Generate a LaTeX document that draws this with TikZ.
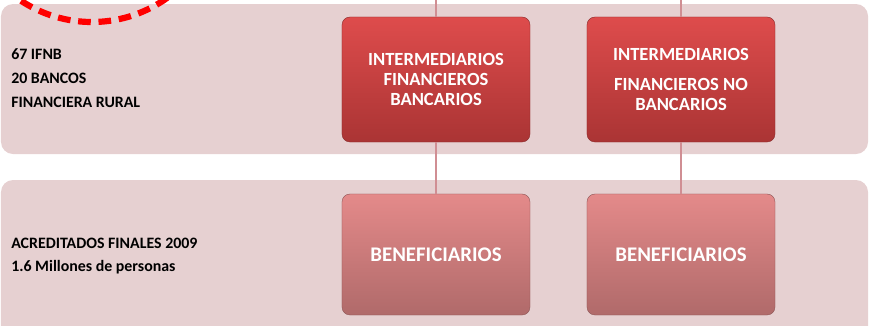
\documentclass[tikz,border=0pt]{standalone}
\usepackage{fontspec}
\setmainfont{Carlito}
\usetikzlibrary{positioning}
\definecolor{bandpink}{RGB}{230,208,209}
\definecolor{linkpink}{RGB}{208,142,147}
\definecolor{redtop}{RGB}{222,76,76}
\definecolor{redbot}{RGB}{170,52,52}
\definecolor{rosetop}{RGB}{228,138,138}
\definecolor{rosebot}{RGB}{176,106,106}
\tikzset{
	band/.style={fill=bandpink, rounded corners=0.3cm},
	redbox/.style={rounded corners=0.2cm, top color=redtop, bottom color=redbot, draw=redbot!80!black, line width=0.3pt,
		minimum width=4.7cm, minimum height=3.125cm, text=white, align=center, font=\bfseries\fontsize{13.2}{14.4}\selectfont},
	rosebox/.style={rounded corners=0.2cm, top color=rosetop, bottom color=rosebot, draw=rosebot!80!black, line width=0.3pt,
		minimum width=4.7cm, minimum height=3.025cm, text=white, align=center, font=\bfseries\fontsize{14.8}{16}\selectfont},
	link/.style={draw=linkpink, line width=1.4pt},
	sidetext/.style={anchor=base west, inner sep=0pt, font=\bfseries\fontsize{11.3}{13}\selectfont}
}
\begin{document}
\begin{tikzpicture}[x=0.025cm, y=-0.025cm]
			%%%%% FRAME %%%%%
			\useasboundingbox (0, 0) rectangle (869, 325);
			\clip (0, 0) rectangle (869, 325);
			
			%%%%% BANDS %%%%%
			\path[band] (1, 4) rectangle (868, 154);
			\path[band] (1, 180) rectangle (868, 345);
			
			\draw[red, line width=4.4pt, dash pattern=on 9pt off 5.5pt] (92, -107) circle (129);
			
			%%%%% NODES %%%%%
			\coordinate (feedA) at (436, 0);
			\coordinate (feedB) at (681, 0);
			
			\node[redbox] (ifb) at (436, 79.5) {INTERMEDIARIOS\\FINANCIEROS\\BANCARIOS};
			\node[redbox] (ifnb) at (681, 79.5) {INTERMEDIARIOS\\[6.5pt]FINANCIEROS NO\\BANCARIOS};
			
			\node[rosebox] (benA) at (436, 254.5) {BENEFICIARIOS};
			\node[rosebox] (benB) at (681, 254.5) {BENEFICIARIOS};
			
			%%%%% LINKS %%%%%
			\draw[link] (feedA) -- (ifb.north);
			\draw[link] (feedB) -- (ifnb.north);
			\draw[link] (ifb.south) -- (benA.north);
			\draw[link] (ifnb.south) -- (benB.north);
			
			%%%%% TEXT %%%%%
			\node[sidetext] (ifnbcount) at (11, 59) {67 IFNB};
			\node[sidetext] (bankcount) at (11, 83) {20 BANCOS};
			\node[sidetext] (rural) at (11, 107) {FINANCIERA RURAL};
			
			\node[sidetext] (acred) at (11, 248) {ACREDITADOS FINALES 2009};
			\node[sidetext] (people) at (11, 271) {1.6 Millones de personas};
			
			%%%%% END %%%%%
\end{tikzpicture}
\end{document}
